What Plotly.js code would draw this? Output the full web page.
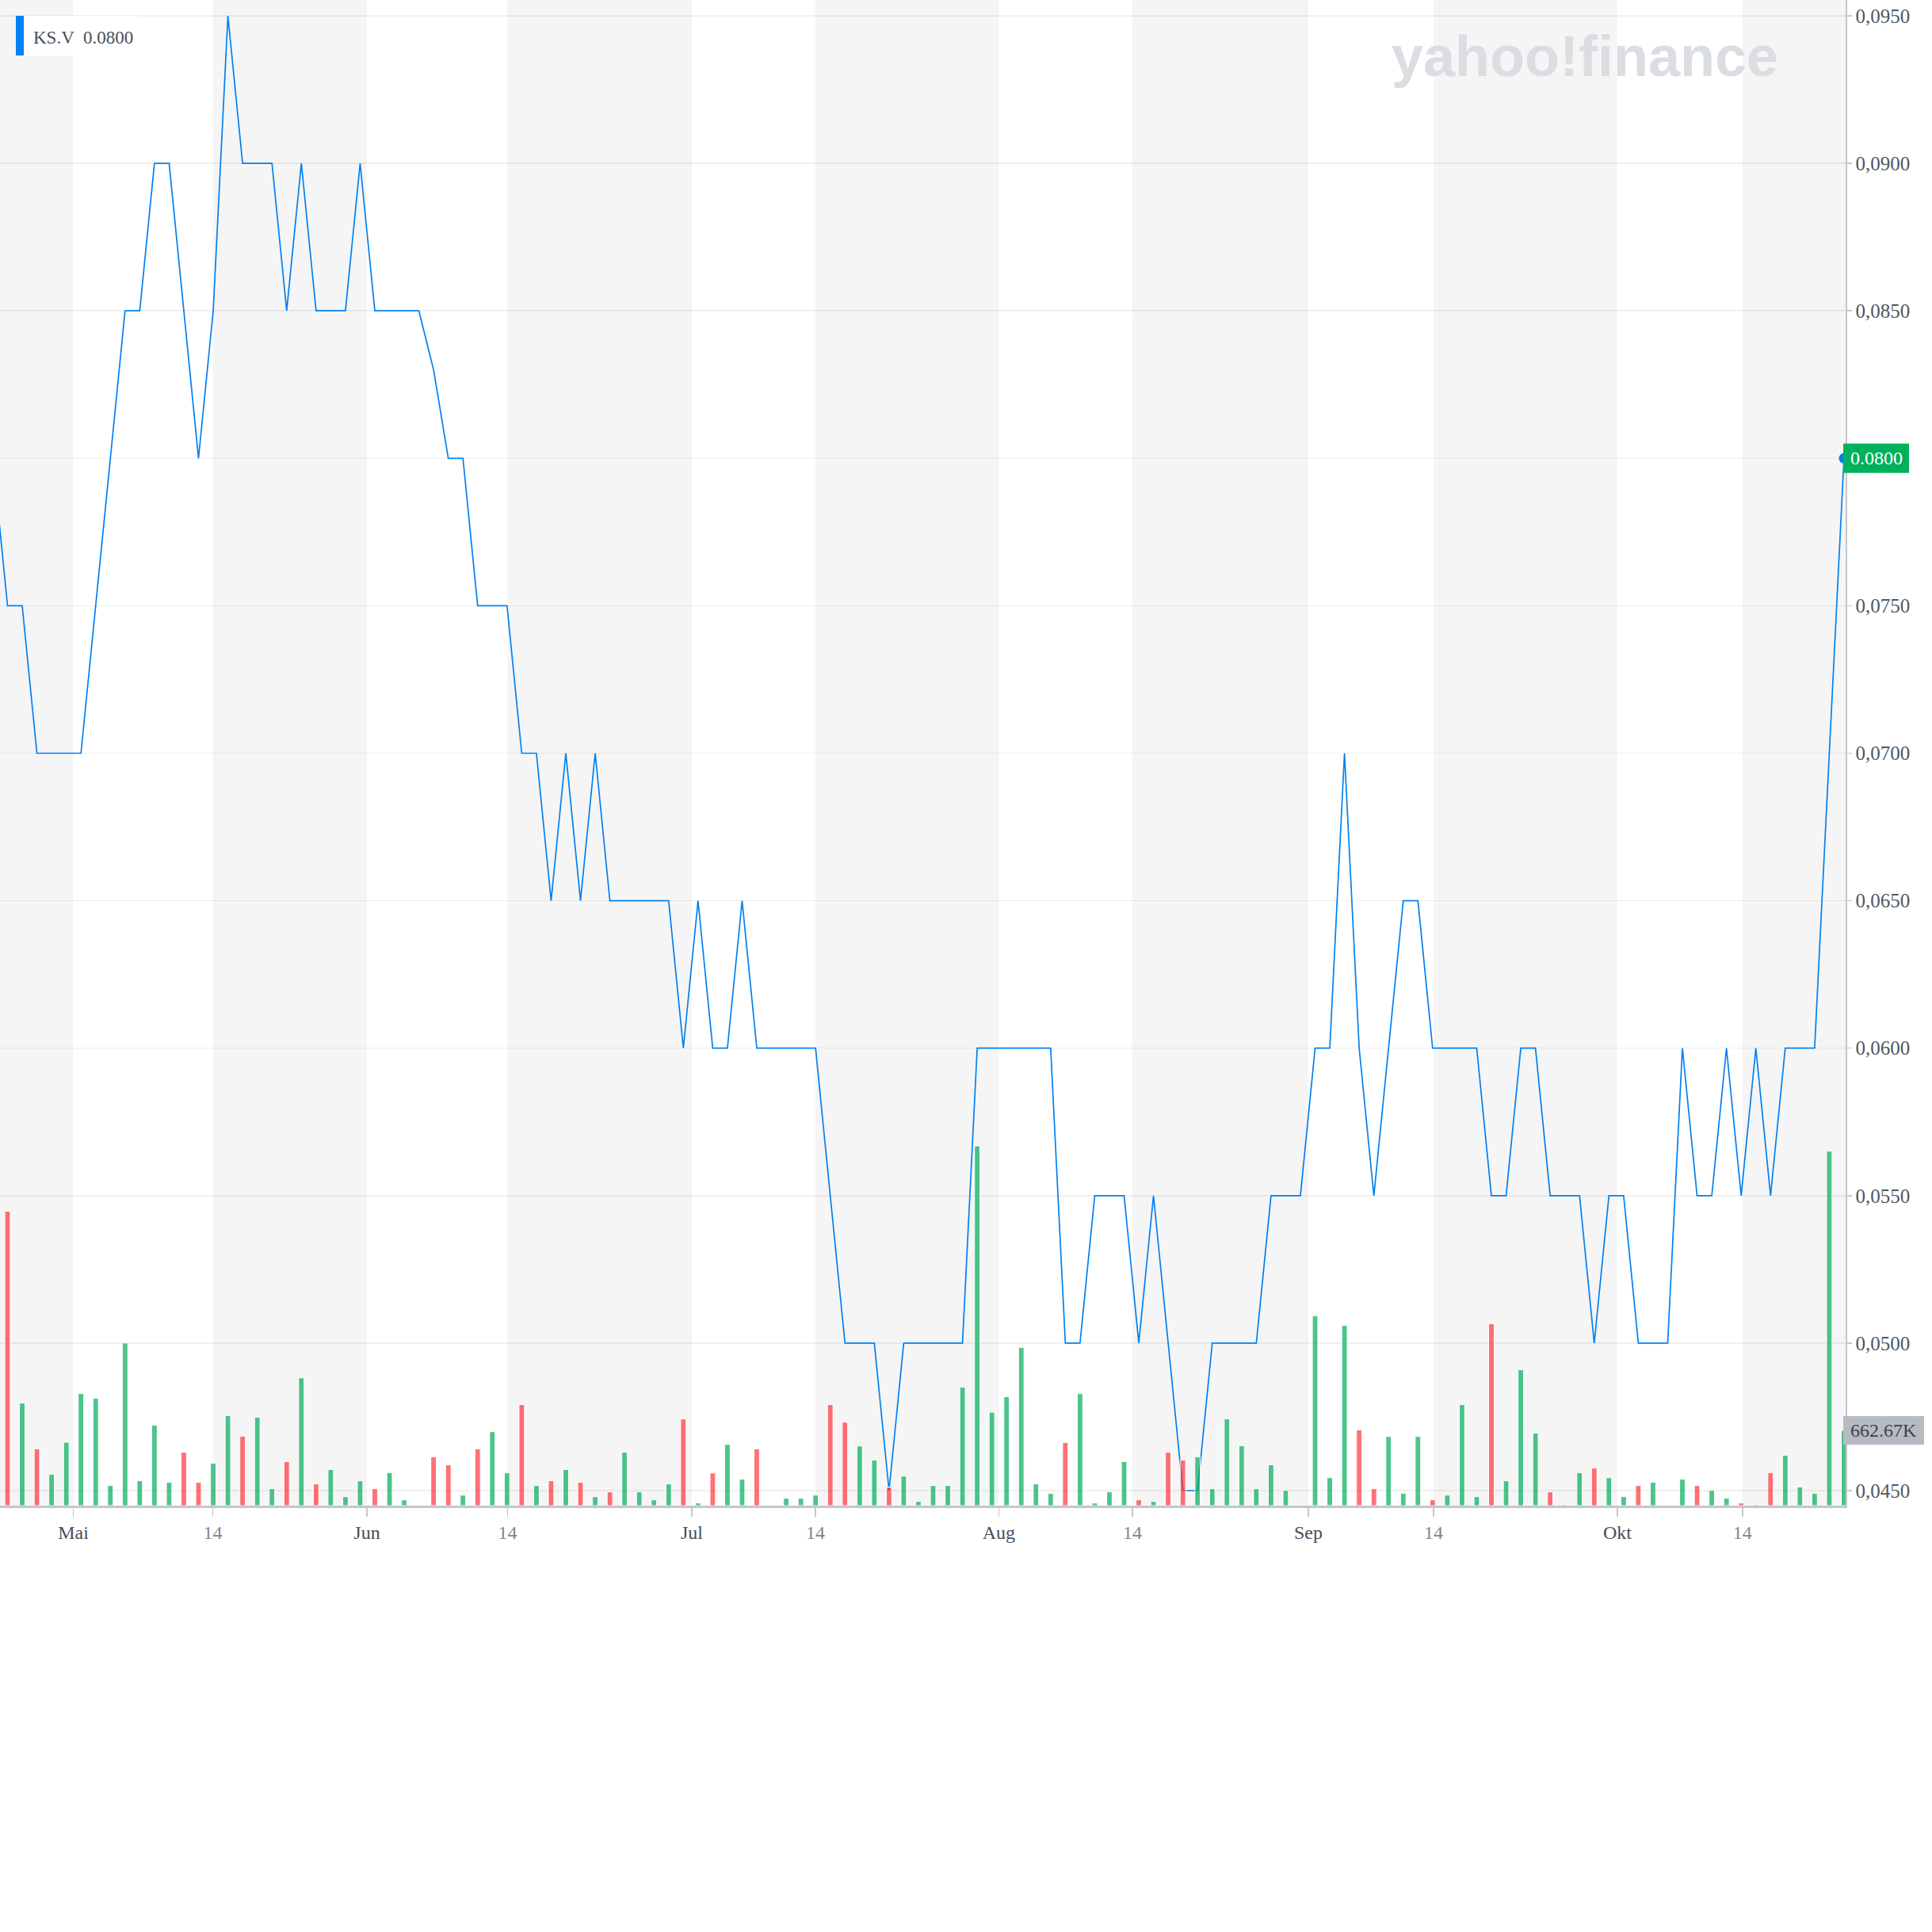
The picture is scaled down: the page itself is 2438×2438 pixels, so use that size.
<!DOCTYPE html>
<html><head><meta charset="utf-8">
<script src="https://cdn.plot.ly/plotly-3.0.1.min.js"></script>
<style>html,body{margin:0;padding:0;background:#fff}#chart{width:2438px;height:2438px}</style>
</head><body><div id="chart"></div>
<script>
// ---- data ----
const symbol = 'KS.V';
const prevClose = 0.08;
const closePrices = [
  0.075, 0.075, 0.07, 0.07, 0.07, 0.07, 0.075, 0.08, 0.085, 0.085,
  0.09, 0.09, 0.085, 0.08, 0.085, 0.095, 0.09, 0.09, 0.09, 0.085,
  0.09, 0.085, 0.085, 0.085, 0.09, 0.085, 0.085, 0.085, 0.085, 0.083,
  0.08, 0.08, 0.075, 0.075, 0.075, 0.07, 0.07, 0.065, 0.07, 0.065,
  0.07, 0.065, 0.065, 0.065, 0.065, 0.065, 0.06, 0.065, 0.06, 0.06,
  0.065, 0.06, 0.06, 0.06, 0.06, 0.06, 0.055, 0.05, 0.05, 0.05,
  0.045, 0.05, 0.05, 0.05, 0.05, 0.05, 0.06, 0.06, 0.06, 0.06,
  0.06, 0.06, 0.05, 0.05, 0.055, 0.055, 0.055, 0.05, 0.055, 0.05,
  0.045, 0.045, 0.05, 0.05, 0.05, 0.05, 0.055, 0.055, 0.055, 0.06,
  0.06, 0.07, 0.06, 0.055, 0.06, 0.065, 0.065, 0.06, 0.06, 0.06,
  0.06, 0.055, 0.055, 0.06, 0.06, 0.055, 0.055, 0.055, 0.05, 0.055,
  0.055, 0.05, 0.05, 0.05, 0.06, 0.055, 0.055, 0.06, 0.055, 0.06,
  0.055, 0.06, 0.06, 0.06, 0.07, 0.08
];
const volumes = [
  2592000, 904000, 500000, 277000, 558000, 986000, 946000, 177000, 1432000, 219000,
  709000, 205000, 470000, 205000, 374000, 793000, 611000, 779000, 149000, 388000,
  1125000, 191000, 319000, 79000, 219000, 149000, 291000, 51000, 0, 430000,
  360000, 93000, 500000, 651000, 288000, 890000, 177000, 219000, 319000, 205000,
  79000, 121000, 470000, 121000, 51000, 191000, 763000, 23000, 288000, 539000,
  233000, 500000, 0, 65000, 65000, 93000, 890000, 735000, 525000, 402000,
  163000, 260000, 37000, 177000, 177000, 1044000, 3167000, 823000, 960000, 1393000,
  191000, 107000, 556000, 986000, 23000, 121000, 388000, 51000, 37000, 470000,
  402000, 430000, 149000, 765000, 528000, 149000, 360000, 135000, 5000, 1672000,
  246000, 1586000, 667000, 149000, 609000, 109000, 609000, 51000, 93000, 890000,
  79000, 1602000, 219000, 1197000, 639000, 121000, 9000, 291000, 332000, 246000,
  79000, 177000, 205000, 0, 233000, 177000, 135000, 65000, 23000, 9000,
  291000, 444000, 165000, 109000, 3120000, 662670
];
const tickLabels = ['Mai', '14', 'Jun', '14', 'Jul', '14', 'Aug', '14', 'Sep', '14', 'Okt', '14'];
const tickPositions = [4.48, 13.97, 24.46, 34.03, 46.57, 54.99, 67.47, 76.56, 88.54, 97.06, 109.57, 118.09];
const priceTicks = [0.045, 0.05, 0.055, 0.06, 0.065, 0.07, 0.075, 0.08, 0.085, 0.09, 0.095];

// ---- styling / layout ----
const GREEN = 'rgba(0,172,90,0.7)';
const RED = 'rgba(255,51,58,0.7)';
const BLUE = '#0081f2';
const idx = closePrices.map((_, i) => i);
const barColors = closePrices.map((p, i) => p >= (i ? closePrices[i - 1] : prevClose) ? GREEN : RED);
const last = closePrices.length - 1;
const lastPrice = closePrices[last];
const lastVol = volumes[last];

const plotW = 2329, plotH = 1900;
const xr = [-0.512, last + 0.11];
const yr = [0.04449, 0.095537];
const y2r = [0, 13254000];
const yPaper = v => (v - yr[0]) / (yr[1] - yr[0]);
const y2Paper = v => (v - y2r[0]) / (y2r[1] - y2r[0]);
const px = p => p / plotW;
const py = p => 1 - p / plotH;

const monthSet = new Set(['Mai', 'Jun', 'Jul', 'Aug', 'Sep', 'Okt']);
const tickText = tickLabels.map(t => monthSet.has(t)
  ? '<span style="color:#464e56">' + t + '</span>'
  : '<span style="color:#7f878e">' + t + '</span>');
// the tick at the current price is hidden behind the price label
const priceTickText = priceTicks.map(v => Math.abs(v - lastPrice) < 1e-9 ? '' : v.toFixed(4).replace('.', ','));

const shapes = [];
const bandEdges = [xr[0], ...tickPositions, xr[1]];
for (let k = 0; k + 1 < bandEdges.length; k += 2) {
  shapes.push({type: 'rect', xref: 'x', yref: 'paper', x0: bandEdges[k], x1: bandEdges[k + 1], y0: 0, y1: 1,
    fillcolor: 'rgba(0,0,0,0.04)', line: {width: 0}, layer: 'below'});
}
// legend box
shapes.push({type: 'rect', xref: 'paper', yref: 'paper', x0: px(20), x1: px(175), y0: py(70), y1: py(20),
  fillcolor: '#ffffff', line: {width: 0}, layer: 'above'});
shapes.push({type: 'rect', xref: 'paper', yref: 'paper', x0: px(20), x1: px(30), y0: py(70), y1: py(20),
  fillcolor: BLUE, line: {width: 0}, layer: 'above'});
// last price label
const priceHalf = 0.000497;
shapes.push({type: 'rect', xref: 'paper', yref: 'paper', x0: px(2326), x1: px(2409),
  y0: yPaper(lastPrice - priceHalf), y1: yPaper(lastPrice + priceHalf),
  fillcolor: '#00b15c', line: {width: 0}, layer: 'above'});
// last volume label
const volHalf = 125500;
shapes.push({type: 'rect', xref: 'paper', yref: 'paper', x0: px(2326), x1: px(2428),
  y0: y2Paper(lastVol - volHalf), y1: y2Paper(lastVol + volHalf),
  fillcolor: '#b6bac1', line: {width: 0}, layer: 'above'});

const annotations = [
  {xref: 'paper', yref: 'paper', x: px(2000), y: py(71), text: '<b>yahoo!finance</b>', showarrow: false,
   xanchor: 'center', yanchor: 'middle', font: {family: 'Liberation Sans', size: 72, color: '#dadde2'}},
  {xref: 'paper', yref: 'paper', x: px(40), y: py(47), text: symbol, showarrow: false,
   xanchor: 'left', yanchor: 'middle', font: {family: 'Liberation Serif', size: 23, color: '#464e56'}},
  {xref: 'paper', yref: 'paper', x: px(103), y: py(47), text: lastPrice.toFixed(4), showarrow: false,
   xanchor: 'left', yanchor: 'middle', font: {family: 'Liberation Serif', size: 23, color: '#464e56'}},
  {xref: 'paper', yref: 'paper', x: px(2367.5), y: yPaper(lastPrice), text: lastPrice.toFixed(4), showarrow: false,
   xanchor: 'center', yanchor: 'middle', font: {family: 'Liberation Serif', size: 24, color: '#ffffff'}},
  {xref: 'paper', yref: 'paper', x: px(2377), y: y2Paper(lastVol), text: (lastVol / 1000).toFixed(2) + 'K', showarrow: false,
   xanchor: 'center', yanchor: 'middle', font: {family: 'Liberation Serif', size: 24, color: '#3c434a'}}
];

const traces = [
  {type: 'scatter', mode: 'lines', x: [-1, ...idx], y: [prevClose, ...closePrices],
   line: {color: BLUE, width: 1.7}, hoverinfo: 'skip', xaxis: 'x', yaxis: 'y'},
  {type: 'scatter', mode: 'markers', x: [last], y: [lastPrice], cliponaxis: false,
   marker: {color: BLUE, size: 13}, hoverinfo: 'skip', xaxis: 'x', yaxis: 'y'},
  {type: 'bar', x: idx, y: volumes, width: 0.37, xaxis: 'x', yaxis: 'y2',
   marker: {color: barColors, line: {color: '#ffffff', width: 1}}, hoverinfo: 'skip'}
];

const layout = {
  width: 2438, height: 2438,
  margin: {l: 0, r: 2438 - plotW, t: 0, b: 2438 - plotH, pad: 0},
  paper_bgcolor: '#ffffff', plot_bgcolor: '#ffffff',
  showlegend: false,
  bargap: 0,
  font: {family: 'Liberation Serif', size: 24, color: '#4f5861'},
  xaxis: {range: xr, tickmode: 'array', tickvals: tickPositions, ticktext: tickText,
    ticks: 'outside', ticklen: 11, tickwidth: 1.5, tickcolor: '#c3c6cb',
    showline: true, linecolor: '#c3c6cb', linewidth: 2.5, showgrid: false, zeroline: false,
    tickfont: {family: 'Liberation Serif', size: 24}},
  yaxis: {side: 'right', range: yr, tickmode: 'array', tickvals: priceTicks, ticktext: priceTickText,
    showgrid: true, gridcolor: 'rgba(0,0,0,0.06)', gridwidth: 1.5,
    showline: true, linecolor: '#c3c6cb', linewidth: 1.5,
    ticks: 'outside', ticklen: 6, tickwidth: 1.5, tickcolor: '#c3c6cb', zeroline: false,
    tickfont: {family: 'Liberation Serif', size: 25, color: '#4f5861'}},
  yaxis2: {overlaying: 'y', range: y2r, visible: false, showgrid: false, zeroline: false},
  shapes: shapes,
  annotations: annotations
};

Plotly.newPlot('chart', traces, layout, {staticPlot: true, displayModeBar: false});
</script>
</body></html>
